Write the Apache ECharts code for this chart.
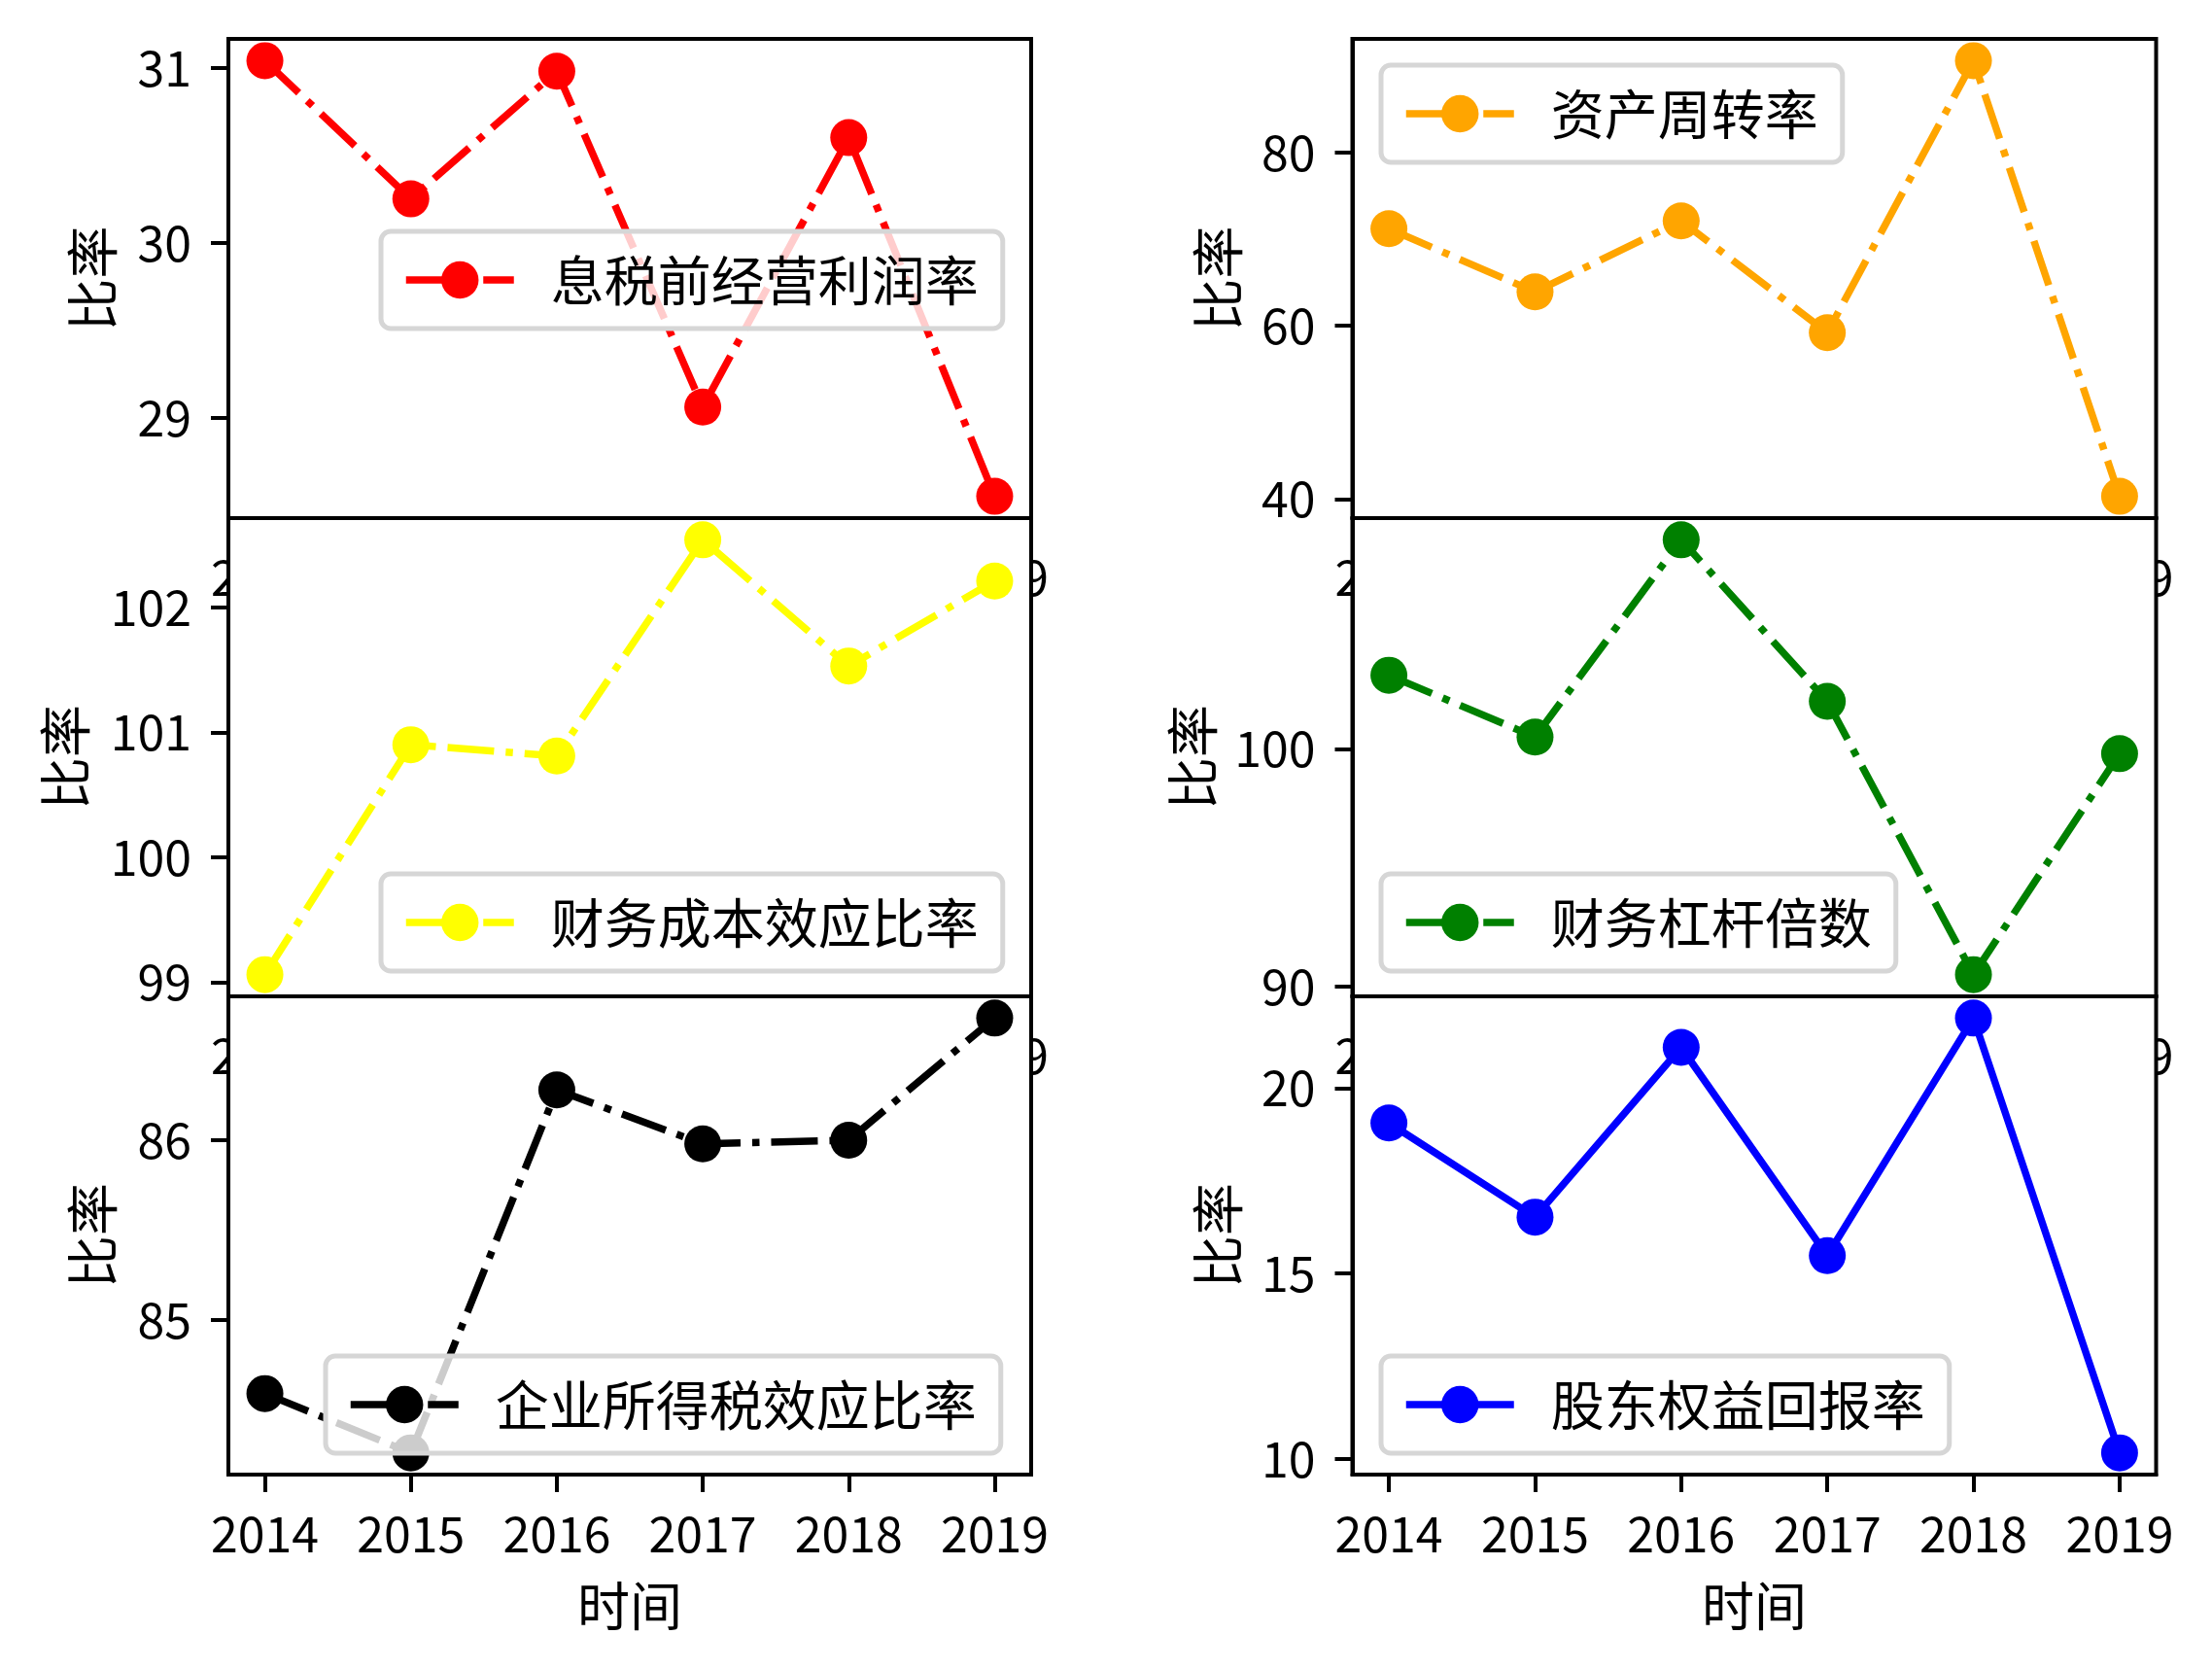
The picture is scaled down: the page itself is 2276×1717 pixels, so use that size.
<!DOCTYPE html>
<html>
<head>
<meta charset="utf-8">
<script src="https://cdn.jsdelivr.net/npm/echarts@6/dist/echarts.min.js"></script>
<style>
html,body{margin:0;padding:0;background:#fff;}
#chart{width:2276px;height:1717px;}
</style>
</head>
<body>
<div id="chart"></div>
<script>
// ---------- data ----------
const years = [2014, 2015, 2016, 2017, 2018, 2019];
const seriesNames = ['息税前经营利润率', '资产周转率', '财务成本效应比率', '财务杠杆倍数', '企业所得税效应比率', '股东权益回报率'];
const ebitMargin     = [31.04, 30.25, 30.98, 29.06, 30.60, 28.55];
const assetTurnover  = [71.2, 63.9, 72.1, 59.2, 90.6, 40.3];
const finCostEffect  = [99.06, 100.90, 100.81, 102.54, 101.53, 102.21];
const finLeverage    = [103.1, 100.5, 108.8, 102.0, 90.5, 99.8];
const taxEffect      = [84.59, 84.26, 86.28, 85.98, 86.00, 86.68];
const roe            = [19.06, 16.52, 21.10, 15.48, 21.89, 10.16];
const yTicks1 = [29, 30, 31];
const yTicks2 = [40, 60, 80];
const yTicks3 = [99, 100, 101, 102];
const yTicks4 = [90, 100];
const yTicks5 = [85, 86];
const yTicks6 = [10, 15, 20];
const xLabel = '时间';
const yLabel = '比率';

// ---------- layout / style ----------
const FONT = 'Noto Sans CJK SC';
const colX = [{left: 235, width: 826}, {left: 1391.5, width: 827}];
const rowY = [{top: 40, height: 493}, {top: 533, height: 492}, {top: 1025, height: 492}];
const panels = [
  {vals: ebitMargin,    ticks: yTicks1, color: '#ff0000', dash: true,  row: 0, col: 0, legend: {left: 392, top: 238},  nameGap: 113},
  {vals: assetTurnover, ticks: yTicks2, color: '#ffa500', dash: true,  row: 0, col: 1, legend: {left: 1421, top: 67},  nameGap: 111},
  {vals: finCostEffect, ticks: yTicks3, color: '#ffff00', dash: true,  row: 1, col: 0, legend: {left: 392, top: 899},  nameGap: 141},
  {vals: finLeverage,   ticks: yTicks4, color: '#008000', dash: true,  row: 1, col: 1, legend: {left: 1421, top: 899}, nameGap: 137},
  {vals: taxEffect,     ticks: yTicks5, color: '#000000', dash: true,  row: 2, col: 0, legend: {left: 335, top: 1395},  nameGap: 113},
  {vals: roe,           ticks: yTicks6, color: '#0000ff', dash: false, row: 2, col: 1, legend: {left: 1421, top: 1395}, nameGap: 111}
];
const DASHDOT = [48, 12, 7.5, 12];

const grid = [], xAxis = [], yAxis = [], series = [], legend = [];
panels.forEach((p, i) => {
  const zb = p.row * 10;
  const mn = Math.min(...p.vals), mx = Math.max(...p.vals);
  const pad = (mx - mn) * 0.05;
  grid.push({
    left: colX[p.col].left, width: colX[p.col].width,
    top: rowY[p.row].top, height: rowY[p.row].height,
    show: true, backgroundColor: '#ffffff', borderColor: '#000', borderWidth: 4,
    z: zb, containLabel: false
  });
  xAxis.push({
    type: 'value', gridIndex: i, min: 2013.75, max: 2019.25, z: zb + 1,
    splitLine: {show: false},
    axisLine: {show: true, onZero: false, lineStyle: {color: '#000', width: 4}},
    axisTick: {show: true, length: 18, lineStyle: {color: '#000', width: 4}, customValues: years},
    axisLabel: {show: true, customValues: years, formatter: v => String(v), color: '#000',
                fontSize: 50, fontFamily: FONT, margin: 36},
    name: p.row === 2 ? xLabel : '', nameLocation: 'middle', nameGap: 108,
    nameTextStyle: {fontSize: 54, fontFamily: FONT, color: '#000'}
  });
  yAxis.push({
    type: 'value', gridIndex: i, min: mn - pad, max: mx + pad, z: zb + 1,
    splitLine: {show: false},
    axisLine: {show: true, lineStyle: {color: '#000', width: 4}},
    axisTick: {show: true, length: 18, lineStyle: {color: '#000', width: 4}, customValues: p.ticks},
    axisLabel: {show: true, customValues: p.ticks, formatter: v => String(v), color: '#000',
                fontSize: 50, fontFamily: FONT, margin: 38},
    name: yLabel, nameLocation: 'middle', nameGap: p.nameGap, nameRotate: 90,
    nameTextStyle: {fontSize: 54, fontFamily: FONT, color: '#000'}
  });
  series.push({
    type: 'line', name: seriesNames[i], xAxisIndex: i, yAxisIndex: i, z: zb + 2,
    data: years.map((y, j) => [y, p.vals[j]]),
    symbol: 'circle', symbolSize: 38, showSymbol: true, showAllSymbol: true,
    lineStyle: {color: p.color, width: 7.5, type: p.dash ? DASHDOT : 'solid'},
    itemStyle: {color: p.color},
    emphasis: {disabled: true}, animation: false
  });
  legend.push({
    data: [seriesNames[i]], left: p.legend.left, top: p.legend.top, z: zb + 3,
    orient: 'horizontal', selectedMode: false,
    backgroundColor: 'rgba(255,255,255,0.8)', borderColor: '#d6d6d6', borderWidth: 5, borderRadius: 10,
    padding: [22, 25, 22, 22],
    itemWidth: 111, itemHeight: 48,
    lineStyle: {width: 7.5},
    textStyle: {fontSize: 55, fontFamily: FONT, color: '#000', lineHeight: 56, padding: [0, 0, 0, 33]}
  });
});

const chart = echarts.init(document.getElementById('chart'), null, {renderer: 'canvas'});
chart.setOption({
  animation: false,
  backgroundColor: '#ffffff',
  grid, xAxis, yAxis, series, legend
});
</script>
</body>
</html>
